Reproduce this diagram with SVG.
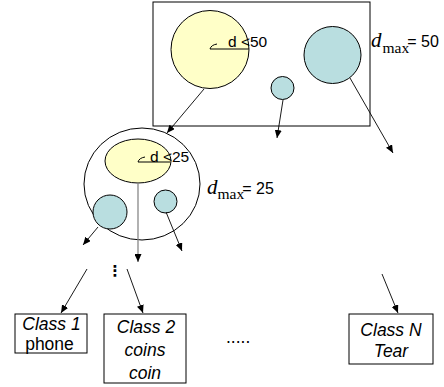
<svg xmlns="http://www.w3.org/2000/svg" width="444" height="387" viewBox="0 0 444 387">
<style>
.box{fill:#fff;stroke:#000;stroke-width:1}
.yel{fill:#FFFFC8;stroke:#000;stroke-width:1}
.blu{fill:#B9DEE0;stroke:#000;stroke-width:1}
.ring{fill:none;stroke:#000;stroke-width:1}
.conn{stroke:#000;stroke-width:0.9;fill:none;marker-end:url(#ah)}
.gray{stroke:#888;stroke-width:1.3;fill:none;marker-end:url(#ah)}
.lbl{font-family:"Liberation Sans",Arial,sans-serif;font-size:17.5px;fill:#000}
.it{font-style:italic}
.sm{font-family:"Liberation Sans",Arial,sans-serif;font-size:15.5px;fill:#000}
.dmx{font-family:"Liberation Sans",Arial,sans-serif;font-size:16px;fill:#000}
.dm{font-family:"Liberation Serif","Times New Roman",serif;font-style:italic;font-size:21px}
.sub{font-family:"Liberation Serif","Times New Roman",serif;font-size:15.5px}
.rad{stroke:#000;stroke-width:1;fill:none}
</style>
<defs>
<marker id="ah" markerWidth="8" markerHeight="7" refX="8" refY="3.5" orient="auto" markerUnits="userSpaceOnUse">
<path d="M0,0 L8,3.5 L0,7 z" fill="#000"/>
</marker>
</defs>

<g id="level1">
<rect class="box" x="153" y="2" width="217" height="124"/>
</g>
<g id="cluster-a">
<circle class="yel" cx="210" cy="49.5" r="39"/>
<path class="rad" d="M210,49 L249,49"/>
<path class="rad" d="M210,49 Q211,45 217,44"/>
<text class="sm" x="228" y="47">d &lt;50</text>
</g>
<g id="cluster-b">
<circle class="blu" cx="332.5" cy="55" r="28.5"/>
</g>
<g id="cluster-c">
<circle class="blu" cx="282.5" cy="88" r="11.5"/>
</g>
<g id="dmax50">
<text class="dmx" x="371" y="47"><tspan class="dm">d</tspan><tspan class="sub" dx="1" dy="6">max</tspan><tspan dx="-2" dy="-6">= 50</tspan></text>
</g>

<g id="level2">
<ellipse class="ring" cx="142" cy="184" rx="58" ry="56"/>
</g>
<g id="cluster-a2">
<ellipse class="yel" cx="138" cy="161" rx="33" ry="22"/>
<path class="rad" d="M138,162 L170,162"/>
<path class="rad" d="M138,162 Q139,158 145,157"/>
<text class="sm" x="150" y="162">d &lt;25</text>
</g>
<g id="cluster-b2">
<circle class="blu" cx="110" cy="212" r="17"/>
</g>
<g id="cluster-c2">
<circle class="blu" cx="165.5" cy="201.5" r="11.5"/>
</g>
<g id="dmax25">
<text class="dmx" x="207" y="194"><tspan class="dm">d</tspan><tspan class="sub" dx="0" dy="5">max</tspan><tspan dx="-2" dy="-5">= 25</tspan></text>
</g>

<g id="vdots">
<text x="115" y="276" font-family="DejaVu Sans, sans-serif" font-size="15" font-weight="bold" text-anchor="middle">⋮</text>
</g>

<g id="class1">
<rect class="box" x="15" y="314" width="72" height="39"/>
<text class="lbl it" x="51.5" y="330" text-anchor="middle">Class 1</text>
<text class="lbl" x="49.5" y="350" text-anchor="middle">phone</text>
</g>
<g id="class2">
<rect class="box" x="104" y="314" width="82" height="69"/>
<text class="lbl it" x="146" y="333" text-anchor="middle">Class 2</text>
<text class="lbl it" x="145" y="356" text-anchor="middle">coins</text>
<text class="lbl it" x="145" y="379" text-anchor="middle">coin</text>
</g>
<g id="ellipsis">
<text class="lbl" x="226" y="343">.....</text>
</g>
<g id="classN">
<rect class="box" x="349" y="314" width="84" height="50"/>
<text class="lbl it" x="391" y="336" text-anchor="middle">Class N</text>
<text class="lbl it" x="391" y="357" text-anchor="middle">Tear</text>
</g>

<g id="connectors">
<line class="conn" x1="204" y1="89" x2="167" y2="133"/>
<line class="conn" x1="283" y1="100" x2="277" y2="138"/>
<line class="conn" x1="350" y1="78" x2="393" y2="153"/>
<line class="gray" x1="138" y1="183" x2="138" y2="262"/>
<line class="conn" x1="98" y1="227" x2="83" y2="245"/>
<line class="conn" x1="166" y1="212" x2="182" y2="251"/>
<line class="conn" x1="87" y1="269" x2="61" y2="313"/>
<line class="conn" x1="127" y1="269" x2="143" y2="313"/>
<line class="conn" x1="382" y1="274" x2="398" y2="313"/>
</g>
</svg>
